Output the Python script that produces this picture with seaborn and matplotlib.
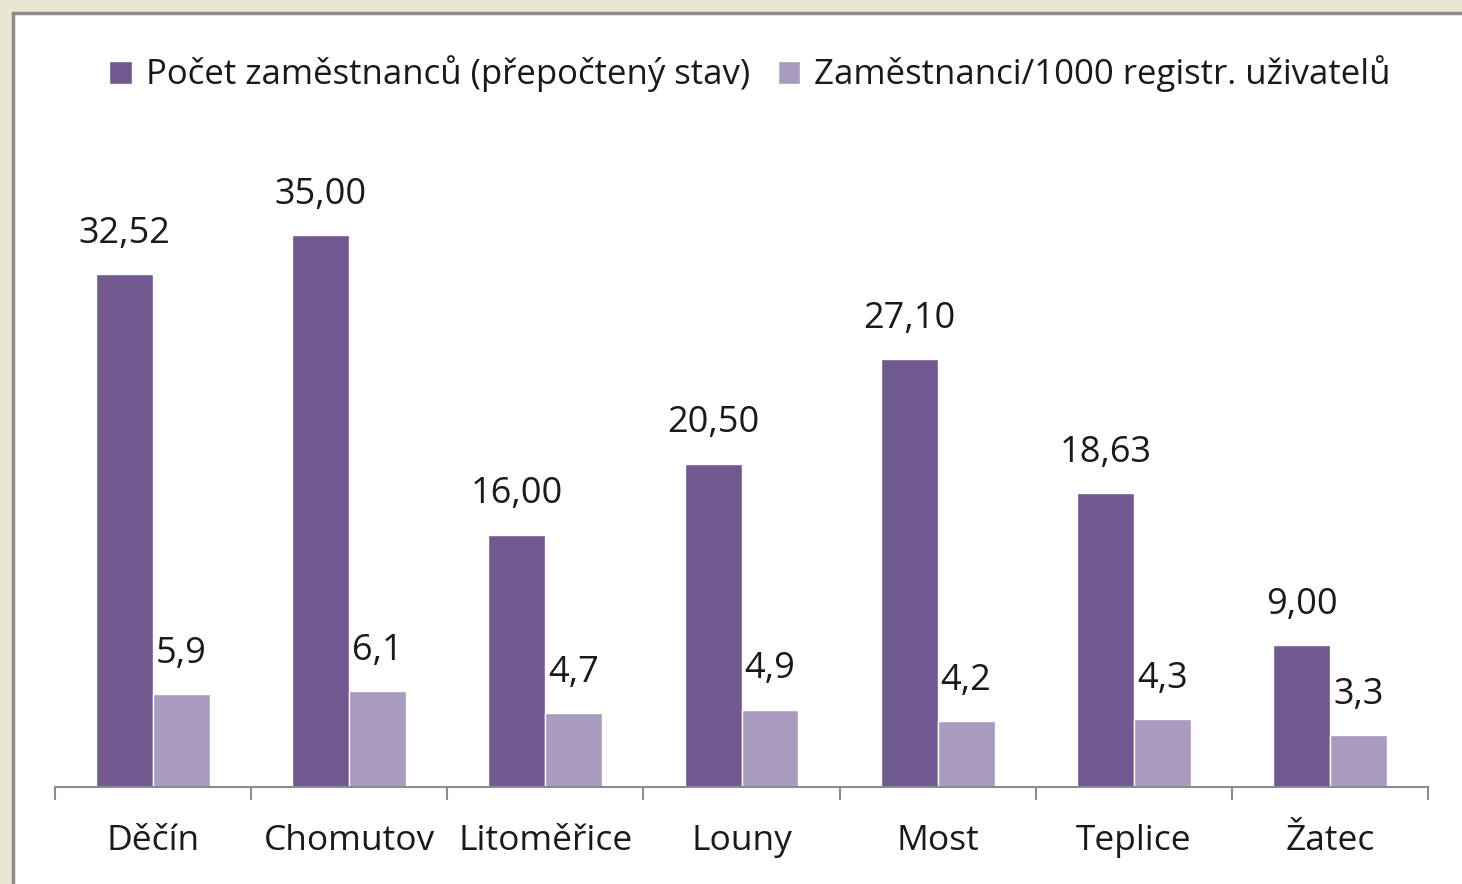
import matplotlib
matplotlib.use("Agg")
import matplotlib.pyplot as plt
import seaborn as sns
import pandas as pd
from matplotlib.patches import Rectangle
from matplotlib.ticker import FixedLocator

categories = ["Děčín", "Chomutov", "Litoměřice", "Louny", "Most", "Teplice", "Žatec"]
series_names = ["Počet zaměstnanců (přepočtený stav)", "Zaměstnanci/1000 registr. uživatelů"]
employees = [32.52, 35.00, 16.00, 20.50, 27.10, 18.63, 9.00]
per_1000 = [5.9, 6.1, 4.7, 4.9, 4.2, 4.3, 3.3]
colors = ["#71588f", "#a99bbe"]

df = pd.DataFrame({
    "Pobočka": categories * 2,
    "Řada": [series_names[0]] * len(categories) + [series_names[1]] * len(categories),
    "Hodnota": employees + per_1000,
})

sns.set_theme(style="white")
plt.rcParams["font.family"] = ["Open Sans", "DejaVu Sans"]

W, H = 1462, 884
fig = plt.figure(figsize=(W / 100, H / 100), dpi=100)
fig.patch.set_facecolor("#e9e6d3")
panel = Rectangle((13 / W, -0.05), 1.1, (H - 13) / H + 0.05, transform=fig.transFigure,
                  facecolor="white", edgecolor="#8a8a8a", linewidth=2.5, zorder=-10)
fig.patches.append(panel)

ax = fig.add_axes([55 / W, 97 / H, (1428 - 55) / W, (787 - 156) / H])
ax.set_zorder(5)
ax.set_facecolor("none")
sns.barplot(data=df, x="Pobočka", y="Hodnota", hue="Řada", palette=colors,
            width=0.58, saturation=1, ax=ax, legend=True)

ax.set_ylim(0, 40)
ax.set_xlim(-0.5, len(categories) - 0.5)
for s in ["top", "right", "left"]:
    ax.spines[s].set_visible(False)
ax.spines["bottom"].set_color("#8c8c8c")
ax.spines["bottom"].set_linewidth(1.5)
ax.set_yticks([])
ax.set_xlabel("")
ax.set_ylabel("")
ax.tick_params(axis="x", which="major", length=0, labelsize=25.5, pad=27, labelcolor="#1a1a1a")
ax.xaxis.set_minor_locator(FixedLocator([i - 0.5 for i in range(len(categories) + 1)]))
ax.tick_params(axis="x", which="minor", length=9.5, width=1.5, color="#8c8c8c", bottom=True)

fmts = [lambda v: f"{v:.2f}".replace(".", ","), lambda v: f"{v:.1f}".replace(".", ",")]
for cont, fmt in zip(ax.containers, fmts):
    ax.bar_label(cont, labels=[fmt(b.get_height()) for b in cont], padding=16,
                 fontsize=26, color="#1a1a1a")

handles, labels = ax.get_legend_handles_labels()
ax.legend(handles, labels, loc="center", bbox_to_anchor=(750 / W, 1 - 74 / H),
          bbox_transform=fig.transFigure, ncol=2, frameon=False, fontsize=25,
          handlelength=0.65, handleheight=0.65, handletextpad=0.4, columnspacing=0.8,
          labelcolor="#1a1a1a")

fig.savefig("out.png", dpi=100, facecolor=fig.get_facecolor())
